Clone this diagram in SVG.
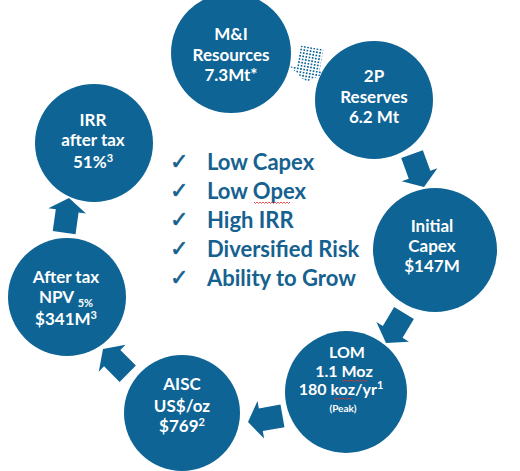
<svg xmlns="http://www.w3.org/2000/svg" width="520" height="471" viewBox="0 0 520 471">
<style>
.c{fill:#0e6494}
.t{fill:#fff;font-family:"Lato","Liberation Sans",sans-serif;font-weight:700;font-size:17px;text-anchor:middle}
.m{font-size:16px}
.s{font-size:11px}
.arr{fill:#0e6494}
.chk{fill:#15618f;stroke:#15618f;stroke-width:0.6;font-family:"DejaVu Sans",sans-serif;font-size:22px}
.li{fill:#15618f;font-family:"Lato","Liberation Sans",sans-serif;font-weight:700;font-size:22px}
.sq{fill:none;stroke:#e0302a;stroke-width:0.8}
</style>
<defs>
<path id="ah" d="M0,0 L-13,-19 L-13,-11.5 L-35,-11.5 L-35,11.5 L-13,11.5 L-13,19 Z"/>
<pattern id="dots" width="3.2" height="3.2" patternUnits="userSpaceOnUse">
<rect width="3.2" height="3.2" fill="#fff"/>
<rect width="1.7" height="1.7" fill="#0e6494"/>
</pattern>
</defs>
<g id="connectors">
<use href="#ah" transform="translate(306,82) rotate(100)" fill="url(#dots)"/>
<use href="#ah" class="arr" transform="translate(424,187) rotate(70)"/>
<use href="#ah" class="arr" transform="translate(386,343) rotate(121)"/>
<use href="#ah" class="arr" transform="translate(248,422) rotate(170)"/>
<use href="#ah" class="arr" transform="translate(103,349) rotate(225)"/>
<use href="#ah" class="arr" transform="translate(69,198) rotate(-82)"/>
</g>
<g id="node-mi">
<circle class="c" cx="231" cy="53" r="60"/>
<text class="t" x="231" y="40">M&amp;I</text>
<text class="t" x="231" y="61">Resources</text>
<text class="t" x="231" y="81">7.3Mt*</text>
</g>
<g id="node-2p">
<circle class="c" cx="374" cy="100" r="59"/>
<text class="t" x="374" y="82">2P</text>
<text class="t" x="374" y="103">Reserves</text>
<text class="t" x="374" y="123">6.2 Mt</text>
</g>
<g id="node-capex">
<circle class="c" cx="435" cy="250" r="62"/>
<text class="t" x="432" y="232">Initial</text>
<text class="t" x="432" y="252">Capex</text>
<text class="t" x="432" y="272">$147M</text>
</g>
<g id="node-lom">
<circle class="c" cx="346" cy="392" r="61"/>
<text class="t m" x="347" y="358">LOM</text>
<text class="t m" x="344" y="377">1.1 Moz</text>
<text class="t m" x="341" y="395">180 koz/yr<tspan class="s" dy="-6">1</tspan></text>
<text class="t" x="343" y="412" style="font-size:10px">(Peak)</text>
<path class="sq" d="M342,380 l1.5,1.5 l1.5,-1.5 l1.5,1.5 l1.5,-1.5 l1.5,1.5 l1.5,-1.5 l1.5,1.5 l1.5,-1.5 l1.5,1.5 l1.5,-1.5 l1.5,1.5 l1.5,-1.5 l1.5,1.5 l1.5,-1.5 l1.5,1.5 l1.5,-1.5 l1.5,1.5"/>
<path class="sq" d="M334,398 l1.5,1.5 l1.5,-1.5 l1.5,1.5 l1.5,-1.5 l1.5,1.5 l1.5,-1.5 l1.5,1.5 l1.5,-1.5 l1.5,1.5 l1.5,-1.5 l1.5,1.5 l1.5,-1.5"/>
</g>
<g id="node-aisc">
<circle class="c" cx="182" cy="413" r="58"/>
<text class="t" x="182" y="390">AISC</text>
<text class="t" x="182" y="412">US$/oz</text>
<text class="t" x="182" y="432">$769<tspan class="s" dy="-6">2</tspan></text>
</g>
<g id="node-npv">
<circle class="c" cx="67" cy="297" r="59"/>
<text class="t" x="66" y="283">After tax</text>
<text class="t" x="66" y="303">NPV <tspan class="s" dy="4">5%</tspan></text>
<text class="t" x="66" y="325">$341M<tspan class="s" dy="-6">3</tspan></text>
</g>
<g id="node-irr">
<circle class="c" cx="94" cy="143" r="59"/>
<text class="t" x="93" y="126">IRR</text>
<text class="t" x="93" y="146">after tax</text>
<text class="t" x="93" y="168">51%<tspan class="s" dy="-6">3</tspan></text>
</g>
<g id="checklist">
<text class="chk" x="170" y="169">✓</text>
<text class="chk" x="170" y="198">✓</text>
<text class="chk" x="170" y="227">✓</text>
<text class="chk" x="170" y="256">✓</text>
<text class="chk" x="170" y="285">✓</text>
<text class="li" x="207" y="170">Low Capex</text>
<text class="li" x="207" y="199">Low Opex</text>
<text class="li" x="207" y="228">High IRR</text>
<text class="li" x="207" y="257">Diversified Risk</text>
<text class="li" x="207" y="286">Ability to Grow</text>
<path class="sq" d="M254,202 l1.5,1.5 l1.5,-1.5 l1.5,1.5 l1.5,-1.5 l1.5,1.5 l1.5,-1.5 l1.5,1.5 l1.5,-1.5 l1.5,1.5 l1.5,-1.5 l1.5,1.5 l1.5,-1.5 l1.5,1.5 l1.5,-1.5 l1.5,1.5 l1.5,-1.5 l1.5,1.5 l1.5,-1.5 l1.5,1.5 l1.5,-1.5 l1.5,1.5 l1.5,-1.5 l1.5,1.5 l1.5,-1.5"/>
</g>
</svg>
